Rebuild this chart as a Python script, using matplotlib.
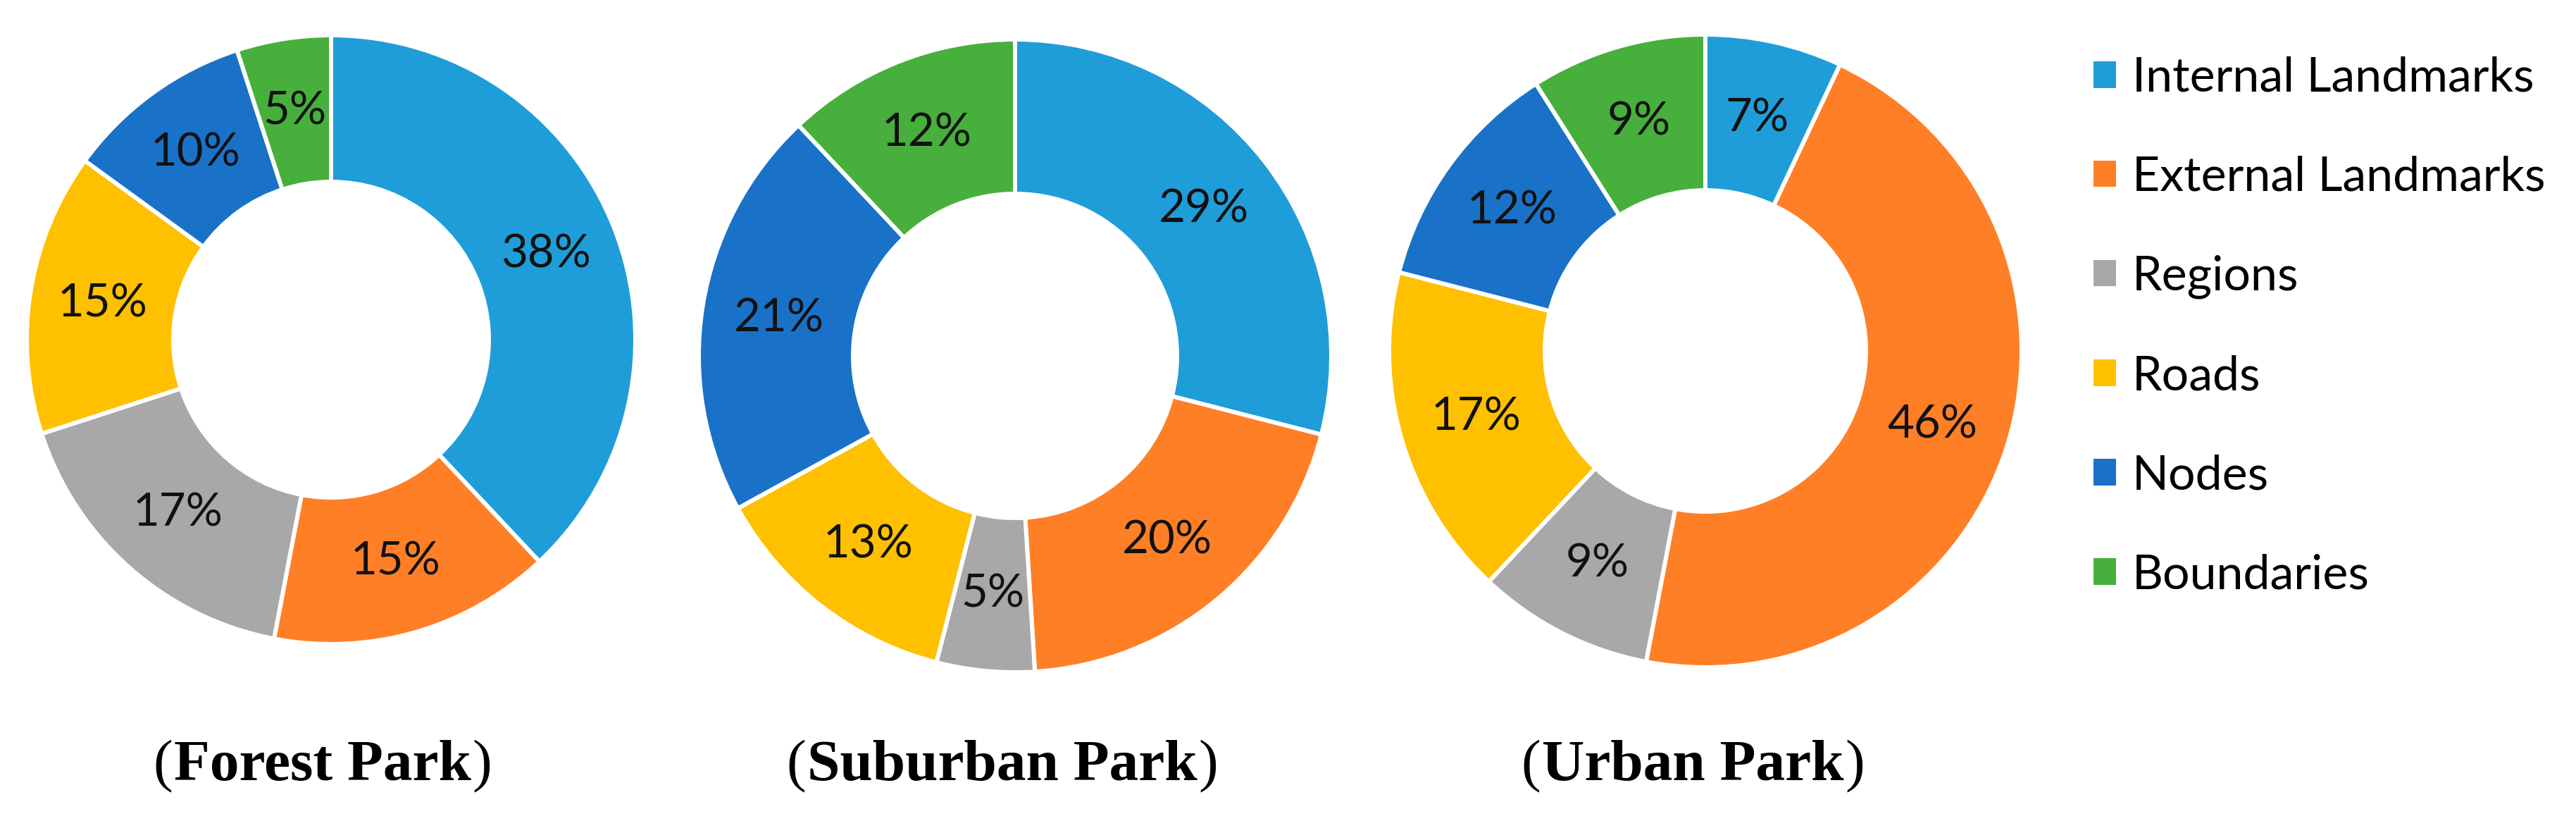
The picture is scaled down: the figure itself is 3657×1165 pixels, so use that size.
import matplotlib
matplotlib.use("Agg")
import matplotlib.pyplot as plt
from matplotlib.patches import Patch

categories = ['Internal Landmarks', 'External Landmarks', 'Regions',
              'Roads', 'Nodes', 'Boundaries']
colors = ['#1F9DD9', '#FF7F27', '#A8A8A8', '#FFC000', '#1A72C8', '#47AF3C']

parks = ['Forest Park', 'Suburban Park', 'Urban Park']
forest = [38, 15, 17, 15, 10, 5]
suburban = [29, 20, 5, 13, 21, 12]
urban = [7, 46, 9, 17, 12, 9]
values = [forest, suburban, urban]

W, H = 3657, 1165
DPI = 100
fig = plt.figure(figsize=(W / DPI, H / DPI), dpi=DPI)
fig.patch.set_facecolor('white')

# donut geometry in pixels: centre x, centre y, outer radius, inner radius
geom = [(470, 482, 432, 224), (1441, 505, 449, 230), (2421, 498, 449, 228)]
title_x = [458, 1423, 2403]
title_y = 1107

label_font = 'Lato'
fs = 47
fs_leg = 49
fs_title = 60

for vals, (cx, cy, R, r) in zip(values, geom):
    ax = fig.add_axes([(cx - R) / W, 1 - (cy + R) / H, 2 * R / W, 2 * R / H])
    hole = r / R
    ax.pie(vals, colors=colors, startangle=90, counterclock=False, radius=1,
           autopct='%.0f%%', pctdistance=(1 + hole) / 2,
           wedgeprops=dict(width=1 - hole, edgecolor='white', linewidth=4.3),
           textprops=dict(fontsize=fs, family=label_font, color='#111111'))
    ax.set_xlim(-1, 1)
    ax.set_ylim(-1, 1)
    ax.set_aspect('equal')
    ax.axis('off')

# titles: bold name between regular parentheses
fig.canvas.draw()
renderer = fig.canvas.get_renderer()
for name, tx in zip(parks, title_x):
    t = fig.text(tx / W, 1 - title_y / H, name, ha='center', va='baseline',
                 fontsize=fs_title, fontweight='bold', family='Liberation Serif')
    bb = t.get_window_extent(renderer)
    fig.text(bb.x0 / W - 0.0005, 1 - title_y / H, '(', ha='right', va='baseline',
             fontsize=fs_title, family='Liberation Serif')
    fig.text(bb.x1 / W + 0.0005, 1 - title_y / H, ')', ha='left', va='baseline',
             fontsize=fs_title, family='Liberation Serif')

handles = [Patch(facecolor=c, edgecolor='none') for c in colors]
fig.legend(handles, categories, loc='upper left',
           bbox_to_anchor=(2972 / W, 1 - 80 / H), frameon=False,
           prop=dict(family=label_font, size=fs_leg),
           handlelength=0.47, handleheight=0.47, handletextpad=0.34,
           labelspacing=1.16, borderpad=0, borderaxespad=0)

fig.savefig('out.png', dpi=DPI)
